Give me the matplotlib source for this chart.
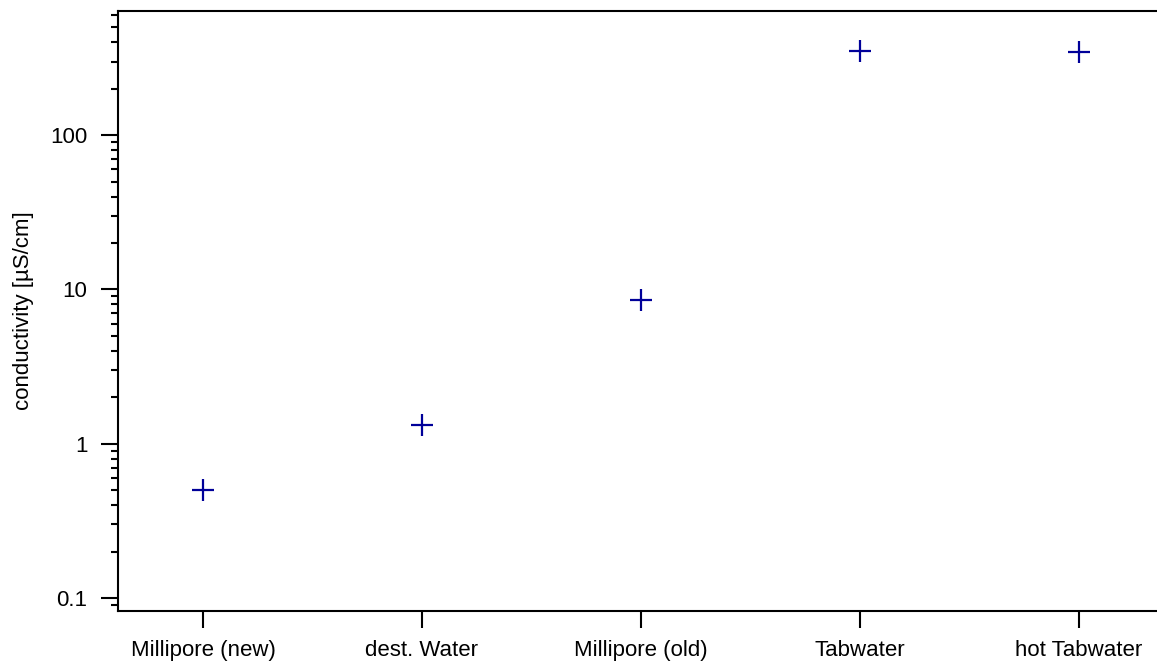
import numpy as np
import matplotlib.pyplot as plt
from matplotlib.ticker import LogLocator, FixedLocator, NullFormatter

plt.rcParams['font.family'] = ['Liberation Sans', 'DejaVu Sans']

samples = ['Millipore (new)', 'dest. Water', 'Millipore (old)', 'Tabwater', 'hot Tabwater']
conductivity = [0.5, 1.32, 8.5, 350, 345]
y_ticks = [0.1, 1, 10, 100]
y_tick_labels = ['0.1', '1', '10', '100']

fig = plt.figure(figsize=(11.57, 6.62), dpi=100)
ax = fig.add_axes([118 / 1157, 51 / 662, 1 - 118 / 1157, 600 / 662])

x = np.arange(len(samples))
ax.plot(x, conductivity, linestyle='none', marker='+', markersize=16,
        markeredgewidth=1.6, color='#000099')

ax.set_yscale('log')
ax.set_ylim(0.0823, 638)
ax.set_xlim(-0.388, 4.356)

ax.set_xticks(x)
ax.set_xticklabels(samples, fontsize=16)
ax.yaxis.set_major_locator(FixedLocator(y_ticks))
ax.set_yticklabels(y_tick_labels, fontsize=16)
ax.yaxis.set_minor_locator(LogLocator(base=10, subs=np.arange(2, 10)))
ax.yaxis.set_minor_formatter(NullFormatter())

ax.tick_params(axis='both', which='major', direction='out', length=12, width=1.5, pad=10)
ax.tick_params(axis='y', which='minor', direction='out', length=5, width=1.5)
ax.tick_params(axis='x', which='major', length=12, pad=9)

for side in ['left', 'bottom', 'top']:
    ax.spines[side].set_linewidth(1.5)
ax.spines['right'].set_visible(False)

ax.set_ylabel('conductivity [µS/cm]', fontsize=16, labelpad=12)

fig.savefig('out.png', dpi=100)
